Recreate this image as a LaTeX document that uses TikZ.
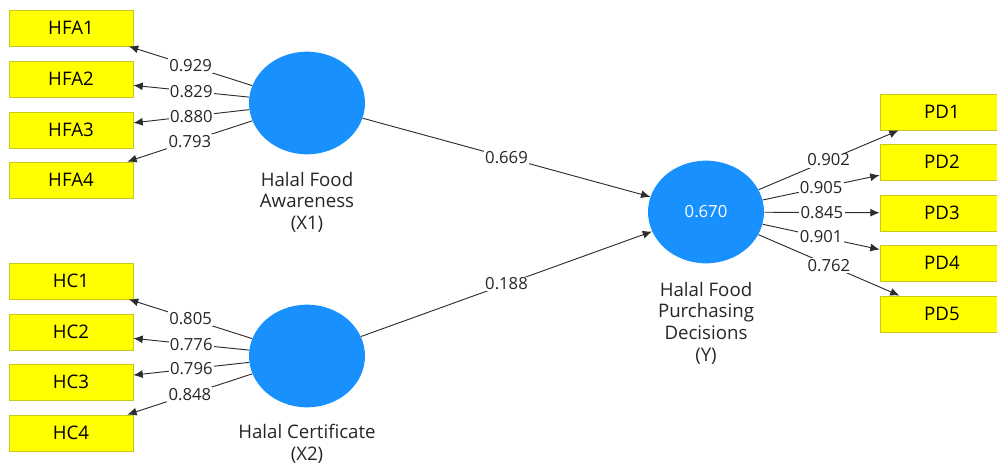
\documentclass[tikz,border=0pt]{standalone}
\usepackage{fontspec}
\setmainfont{Open Sans}
\usepackage{tikz}
\usetikzlibrary{shapes.geometric, arrows.meta, positioning}
\definecolor{lvblue}{RGB}{24,145,255}
\definecolor{indyellow}{RGB}{255,255,0}
\definecolor{indborder}{RGB}{200,200,30}
\definecolor{pathgray}{RGB}{45,45,45}

\begin{document}
\begin{tikzpicture}[
    x=0.75pt, y=-0.75pt,
    font=\fontsize{12.5}{16}\selectfont,
    ind/.style={draw=indborder, fill=indyellow, line width=0.6pt, minimum width=93pt, minimum height=27pt, inner sep=0pt, font=\fontsize{14}{16}\selectfont},
    lv/.style={ellipse, fill=lvblue, minimum width=87pt, minimum height=77pt, inner sep=0pt, text=white},
    lvname/.style={align=center, text=black!85, font=\fontsize{14}{16.2}\selectfont},
    load/.style={midway, fill=white, inner sep=1pt, text=black!85},
    arrow/.style={-{Latex[length=7pt, width=6pt]}, pathgray, line width=0.7pt}
]

\clip (0,0) rectangle (997,464);

% Halal Food Awareness block
\node[ind] at (71,28) (hfa1) {HFA1};
\node[ind] at (71,79) (hfa2) {HFA2};
\node[ind] at (71,130) (hfa3) {HFA3};
\node[ind] at (71,180) (hfa4) {HFA4};
\node[lv] at (307,103) (x1) {};
\node[lvname] at (307,202) (x1name) {Halal Food\\Awareness\\(X1)};

% Halal Certificate block
\node[ind] at (71,281) (hc1) {HC1};
\node[ind] at (71,332) (hc2) {HC2};
\node[ind] at (71,382) (hc3) {HC3};
\node[ind] at (71,433) (hc4) {HC4};
\node[lv] at (307,356) (x2) {};
\node[lvname] at (307,444) (x2name) {Halal Certificate\\(X2)};

% Halal Food Purchasing Decisions block
\node[lv] at (706,212) (y) {0.670};
\node[lvname] at (706,323) (yname) {Halal Food\\Purchasing\\Decisions\\(Y)};
\node[ind] at (942,112) (pd1) {PD1};
\node[ind] at (942,162) (pd2) {PD2};
\node[ind] at (942,213) (pd3) {PD3};
\node[ind] at (942,263) (pd4) {PD4};
\node[ind] at (942,314) (pd5) {PD5};

% Outer loadings X1
\draw[arrow] (x1) -- node[load] {0.929} (hfa1);
\draw[arrow] (x1) -- node[load] {0.829} (hfa2);
\draw[arrow] (x1) -- node[load] {0.880} (hfa3);
\draw[arrow] (x1) -- node[load] {0.793} (hfa4);

% Outer loadings X2
\draw[arrow] (x2) -- node[load] {0.805} (hc1);
\draw[arrow] (x2) -- node[load] {0.776} (hc2);
\draw[arrow] (x2) -- node[load] {0.796} (hc3);
\draw[arrow] (x2) -- node[load] {0.848} (hc4);

% Outer loadings Y
\draw[arrow] (y) -- node[load] {0.902} (pd1);
\draw[arrow] (y) -- node[load] {0.905} (pd2);
\draw[arrow] (y) -- node[load] {0.845} (pd3);
\draw[arrow] (y) -- node[load] {0.901} (pd4);
\draw[arrow] (y) -- node[load] {0.762} (pd5);

% Path coefficients
\draw[arrow] (x1) -- node[load] {0.669} (y);
\draw[arrow] (x2) -- node[load] {0.188} (y);

\end{tikzpicture}
\end{document}
